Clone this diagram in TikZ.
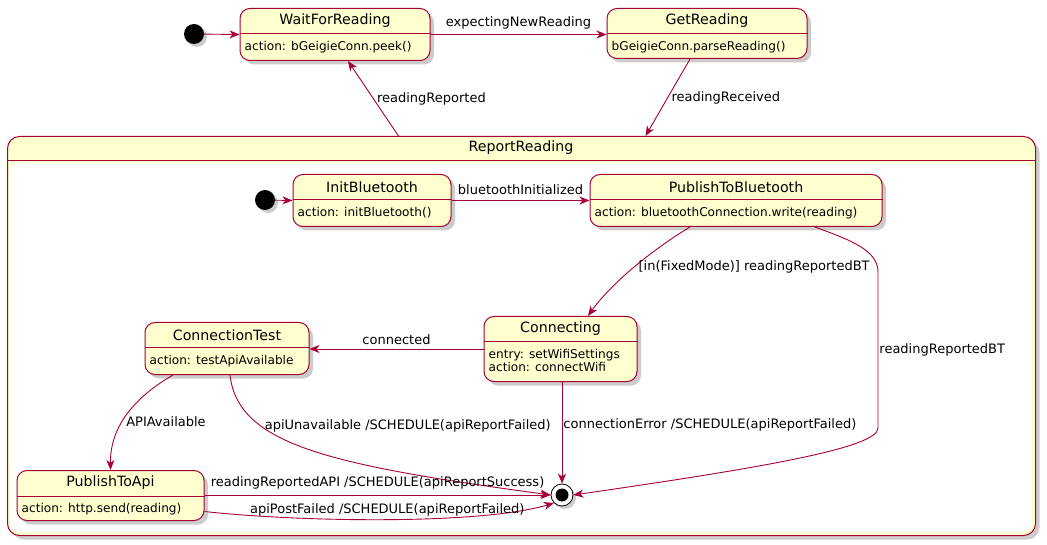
\documentclass[tikz,border=0pt]{standalone}
\usepackage{fontspec}
\setmainfont{DejaVu Sans}
\usetikzlibrary{arrows.meta,positioning,shadows}
\definecolor{umlred}{HTML}{A80036}
\definecolor{umlfill}{HTML}{FEFECE}
\newcommand{\titlefont}{\fontsize{14.2}{16}\selectfont}
\newcommand{\bodyfont}{\fontsize{12.1}{13}\selectfont}
\newcommand{\labelfont}{\fontsize{13}{15}\selectfont}
% name, center x, top y, width, height, title, body
\newcommand{\stateblock}[7]{%
  \node[statebox, minimum width=#4, minimum height=#5, anchor=north] (#1) at (#2,#3) {};
  \draw[umlred, line width=1pt] ([yshift=-26pt]#1.north west) -- ([yshift=-26pt]#1.north east);
  \node[font=\titlefont, inner sep=0pt] at ([yshift=-13pt]#1.north) {#6};
  \node[font=\bodyfont, align=left, inner sep=0pt, anchor=north west] at ([xshift=5pt,yshift=-33pt]#1.north west) {#7};
}
\begin{document}
\begin{tikzpicture}[x=1pt,y=-1pt,>={Stealth[length=10pt,width=8pt,inset=3pt]},
  statebox/.style={draw=umlred, line width=1pt, fill=umlfill, rounded corners=10pt,
    drop shadow={shadow xshift=4pt,shadow yshift=-4pt,opacity=0.4}},
  startdot/.style={circle, fill=black, minimum size=20pt, inner sep=0pt,
    drop shadow={shadow xshift=3pt,shadow yshift=-3pt,opacity=0.4}},
  enddot/.style={circle, draw=black, line width=0.8pt, fill=white, minimum size=22pt, inner sep=0pt,
    drop shadow={shadow xshift=3pt,shadow yshift=-3pt,opacity=0.4}},
  trans/.style={->, draw=umlred, line width=0.9pt},
  trlabel/.style={font=\labelfont, text=black}]
\useasboundingbox (0,0) rectangle (1047,545);

% outer states
\node[startdot] (start) at (194,34) {};
\stateblock{wait}{335}{8}{190}{52}{WaitForReading}{action: bGeigieConn.peek()}
\stateblock{getr}{707}{8}{200}{50}{GetReading}{bGeigieConn.parseReading()}

% composite state
\node[statebox, rounded corners=12pt, minimum width=1028, minimum height=399, anchor=north west] (report) at (7,136) {};
\fill[white, rounded corners=9pt] (10,163) rectangle (1032,532);
\draw[umlred, line width=1pt] (report.west |- 0,161) -- (report.east |- 0,161);
\node[font=\titlefont, inner sep=0pt] (reporttitle) at (521,148) {ReportReading};

% inner states
\node[startdot] (start2) at (265,200) {};
\stateblock{initbt}{372}{174}{158}{52}{InitBluetooth}{action: initBluetooth()}
\stateblock{pubbt}{736}{174}{292}{52}{PublishToBluetooth}{action: bluetoothConnection.write(reading)}
\stateblock{conn}{560.5}{316}{153}{65}{Connecting}{entry: setWifiSettings\\action: connectWifi}
\stateblock{ctest}{227}{322}{164}{52}{ConnectionTest}{action: testApiAvailable}
\stateblock{pubapi}{110.5}{470}{187}{50}{PublishToApi}{action: http.send(reading)}
\node[enddot] (final) at (562,495) {};
\fill[black] (final) circle (6.5pt);

% transitions
\draw[trans] (start) -- (wait.west);
\draw[trans] (wait.east) -- node[trlabel, above=2pt] {expectingNewReading} (wait.east -| getr.west);
\draw[trans] ([xshift=-123pt]report.north) -- node[trlabel, right] {readingReported} ([xshift=13pt]wait.south);
\draw[trans] ([xshift=-17pt]getr.south) -- node[trlabel, right] {readingReceived} ([xshift=124pt]report.north);

\draw[trans] (start2) -- (initbt.west);
\draw[trans] (initbt.east) -- node[trlabel, above=2pt] {bluetoothInitialized} (pubbt.west);
\draw[trans] ([xshift=-46pt]pubbt.south) .. controls (655,248) and (612,282) .. node[trlabel, pos=0.5, anchor=west] {[in(FixedMode)] readingReportedBT} ([xshift=27.5pt]conn.north);
\draw[trans] ([xshift=79pt]pubbt.south) .. controls (850,240) and (878,250) .. (878,272)
  -- node[trlabel, right, inner sep=1pt] {readingReportedBT} (878,428)
  .. controls (878,448) and (760,468) .. (final.east);
\draw[trans] (conn.west) -- node[trlabel, above=1pt] {connected} (conn.west -| ctest.east);
\draw[trans] (conn.south -| final) -- node[trlabel, pos=0.42, right, inner sep=1pt] {connectionError /SCHEDULE(apiReportFailed)} (final.north);
\draw[trans] ([xshift=-54pt]ctest.south) .. controls (130,400) and (110,430) .. node[trlabel, pos=0.55, anchor=west] {APIAvailable} (pubapi.north);
\draw[trans] ([xshift=3pt]ctest.south) .. controls (238,445) and (330,465) .. node[trlabel, pos=0.3, anchor=west] {apiUnavailable /SCHEDULE(apiReportFailed)} (final.west);
\draw[trans] (pubapi.east |- final) -- node[trlabel, above=2pt] {readingReportedAPI /SCHEDULE(apiReportSuccess)} (final.west);
\draw[trans] ([yshift=-16pt]pubapi.east) .. controls (300,522) and (480,525) .. node[trlabel, pos=0.5, above=-1pt] {apiPostFailed /SCHEDULE(apiReportFailed)} (final.south west);
\end{tikzpicture}
\end{document}
